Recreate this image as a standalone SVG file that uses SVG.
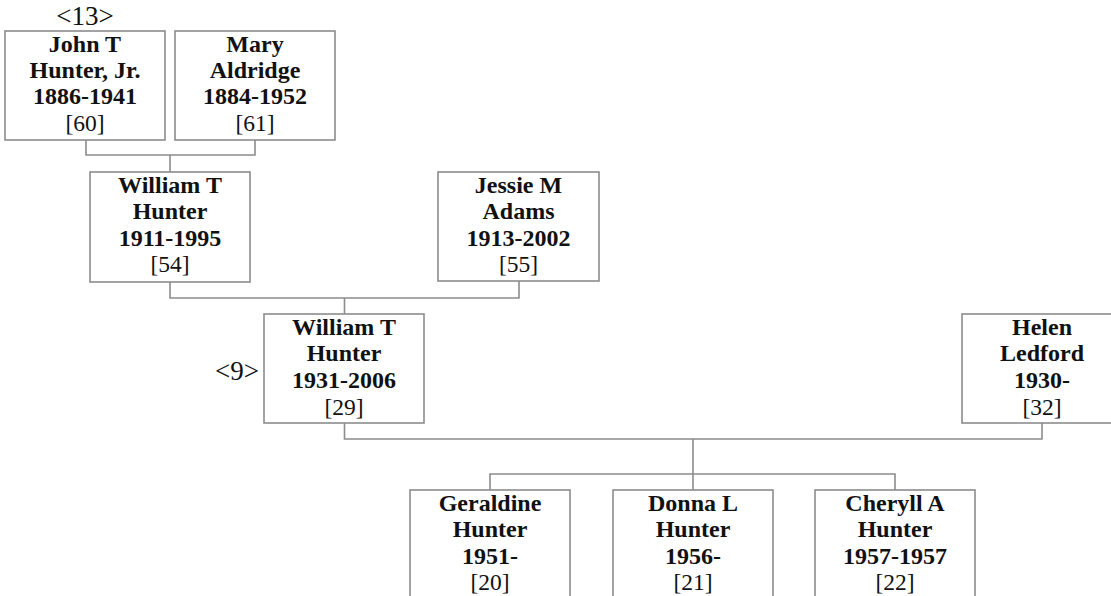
<svg xmlns="http://www.w3.org/2000/svg" width="1111" height="596" viewBox="0 0 1111 596">
<style>
.box{fill:#fff;stroke:#8c8c8c;stroke-width:1.6}
.con{fill:none;stroke:#8c8c8c;stroke-width:1.6}
text{font-family:"Liberation Serif","Times New Roman",serif;font-size:23.5px;fill:#111;text-anchor:middle}
.b{font-weight:bold;font-size:24px}
.lbl{font-size:27px}
</style>
<rect width="1111" height="596" fill="#fff"/>
<g id="connectors">
<polyline class="con" points="86,140 86,155 255,155 255,140"/>
<line class="con" x1="170" y1="155" x2="170" y2="172"/>
<polyline class="con" points="170,282 170,298 519,298 519,281"/>
<line class="con" x1="344.5" y1="298" x2="344.5" y2="314"/>
<polyline class="con" points="344.5,423 344.5,439 1042,439 1042,423"/>
<line class="con" x1="693" y1="439" x2="693" y2="490"/>
<polyline class="con" points="490,490 490,474 895,474 895,490"/>
</g>
<text class="lbl" x="85" y="25">&lt;13&gt;</text>
<text class="lbl" x="259" y="380" style="text-anchor:end">&lt;9&gt;</text>
<g id="p60">
<rect class="box" x="5" y="31" width="160" height="109"/>
<text class="b" x="85" y="52">John T</text>
<text class="b" x="85" y="78">Hunter, Jr.</text>
<text class="b" x="85" y="104">1886-1941</text>
<text x="85" y="131">[60]</text>
</g>
<g id="p61">
<rect class="box" x="175" y="31" width="160" height="109"/>
<text class="b" x="255" y="52">Mary</text>
<text class="b" x="255" y="78">Aldridge</text>
<text class="b" x="255" y="104">1884-1952</text>
<text x="255" y="131">[61]</text>
</g>
<g id="p54">
<rect class="box" x="90" y="172" width="160" height="110"/>
<text class="b" x="170" y="193">William T</text>
<text class="b" x="170" y="219">Hunter</text>
<text class="b" x="170" y="245.5">1911-1995</text>
<text x="170" y="272">[54]</text>
</g>
<g id="p55">
<rect class="box" x="438" y="172" width="161" height="109"/>
<text class="b" x="518.5" y="193">Jessie M</text>
<text class="b" x="518.5" y="219">Adams</text>
<text class="b" x="518.5" y="245.5">1913-2002</text>
<text x="518.5" y="272">[55]</text>
</g>
<g id="p29">
<rect class="box" x="264" y="314" width="160" height="109"/>
<text class="b" x="344" y="335">William T</text>
<text class="b" x="344" y="361">Hunter</text>
<text class="b" x="344" y="387.5">1931-2006</text>
<text x="344" y="414.5">[29]</text>
</g>
<g id="p32">
<rect class="box" x="962" y="314" width="160" height="109"/>
<text class="b" x="1042" y="335">Helen</text>
<text class="b" x="1042" y="361">Ledford</text>
<text class="b" x="1042" y="387.5">1930-</text>
<text x="1042" y="414.5">[32]</text>
</g>
<g id="p20">
<rect class="box" x="410" y="490" width="160" height="120"/>
<text class="b" x="490" y="511">Geraldine</text>
<text class="b" x="490" y="537">Hunter</text>
<text class="b" x="490" y="563.5">1951-</text>
<text x="490" y="590">[20]</text>
</g>
<g id="p21">
<rect class="box" x="613" y="490" width="160" height="120"/>
<text class="b" x="693" y="511">Donna L</text>
<text class="b" x="693" y="537">Hunter</text>
<text class="b" x="693" y="563.5">1956-</text>
<text x="693" y="590">[21]</text>
</g>
<g id="p22">
<rect class="box" x="815" y="490" width="160" height="120"/>
<text class="b" x="895" y="511">Cheryll A</text>
<text class="b" x="895" y="537">Hunter</text>
<text class="b" x="895" y="563.5">1957-1957</text>
<text x="895" y="590">[22]</text>
</g>
</svg>
